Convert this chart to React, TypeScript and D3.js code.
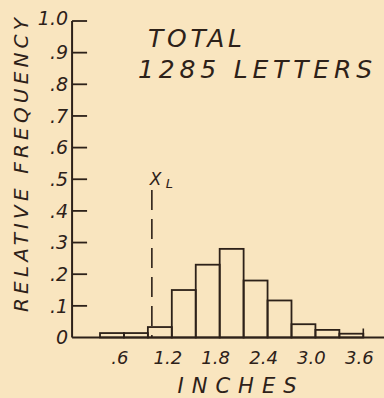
import React from "react";
import * as d3 from "d3";

// chart size
const WIDTH = 384;
const HEIGHT = 398;

// data
const binEdges: number[] = [0.3, 0.6, 0.9, 1.2, 1.5, 1.8, 2.1, 2.4, 2.7, 3.0, 3.3, 3.6];
const frequencies: number[] = [0.014, 0.014, 0.033, 0.15, 0.23, 0.28, 0.18, 0.117, 0.042, 0.024, 0.012];
const yTicks: number[] = [0, 0.1, 0.2, 0.3, 0.4, 0.5, 0.6, 0.7, 0.8, 0.9, 1.0];
const yTickLabels: string[] = ["0", ".1", ".2", ".3", ".4", ".5", ".6", ".7", ".8", ".9", "1.0"];
const xTicks: number[] = [0.6, 1.2, 1.8, 2.4, 3.0, 3.6];
const xTickLabels: string[] = [".6", "1.2", "1.8", "2.4", "3.0", "3.6"];
const xL = 0.95;

const INK = "#2d2119";
const PAPER = "#f9e5bf";
const FONT = "'DejaVu Sans', sans-serif";

const App: React.FC = () => {
  const x = d3.scaleLinear().domain([0.3, 3.6]).range([100, 363.3]);
  const y = d3.scaleLinear().domain([0, 1]).range([337.5, 21]);

  const axisX = x(-0.05);
  const base = y(0);

  const bars = frequencies.map((f, i) => ({ x0: binEdges[i], x1: binEdges[i + 1], f }));

  return (
    <svg
      width={WIDTH}
      height={HEIGHT}
      style={{ position: "absolute", left: 0, top: 0 }}
      fontFamily={FONT}
    >
      <rect width={WIDTH} height={HEIGHT} fill={PAPER} />

      {/* bars */}
      {bars.map((b, i) => (
        <rect
          key={i}
          x={x(b.x0)}
          y={y(b.f)}
          width={x(b.x1) - x(b.x0)}
          height={base - y(b.f)}
          fill="none"
          stroke={INK}
          strokeWidth={1.8}
        />
      ))}

      {/* X_L dashed line */}
      <line
        x1={x(xL)}
        x2={x(xL)}
        y1={190}
        y2={base}
        stroke={INK}
        strokeWidth={1.6}
        strokeDasharray="20 9"
      />
      <text x={x(xL) - 2} y={185} fontSize={17} fill={INK} fontStyle="italic">
        X
      </text>
      <text x={x(xL) + 14} y={188} fontSize={13} fill={INK} fontStyle="italic">
        L
      </text>

      {/* axes */}
      <line x1={axisX} x2={axisX} y1={y(1)} y2={base} stroke={INK} strokeWidth={2} />
      <line x1={axisX} x2={x(3.9)} y1={base} y2={base} stroke={INK} strokeWidth={2} />
      <line x1={x(3.6)} x2={x(3.6)} y1={base} y2={base - 9} stroke={INK} strokeWidth={1.6} />

      {yTicks.map((t, i) => (
        <g key={t}>
          {i > 0 && (
            <line x1={axisX} x2={axisX + 15} y1={y(t)} y2={y(t)} stroke={INK} strokeWidth={1.8} />
          )}
          <text
            x={axisX - 4}
            y={y(t)}
            dy={i === yTicks.length - 1 ? "0.2em" : "0.35em"}
            textAnchor="end"
            fontSize={19}
            fontStyle="italic"
            fill={INK}
          >
            {yTickLabels[i]}
          </text>
        </g>
      ))}

      {xTicks.map((t, i) => (
        <text
          key={t}
          x={x(t) - 4}
          y={364}
          textAnchor="middle"
          fontSize={18}
          fontStyle="italic"
          fill={INK}
        >
          {xTickLabels[i]}
        </text>
      ))}

      {/* axis titles */}
      <text
        x={237}
        y={393}
        textAnchor="middle"
        fontSize={21}
        fontStyle="italic"
        fill={INK}
        textLength={119}
        lengthAdjust="spacing"
      >
        INCHES
      </text>
      <text
        transform={`translate(28,165) rotate(-90)`}
        textAnchor="middle"
        fontSize={20}
        fontStyle="italic"
        fill={INK}
        textLength={294}
        lengthAdjust="spacing"
      >
        RELATIVE FREQUENCY
      </text>

      {/* annotation */}
      <text x={148} y={47} fontSize={25} fontStyle="italic" fill={INK} textLength={94} lengthAdjust="spacing">
        TOTAL
      </text>
      <text x={138} y={78} fontSize={25} fontStyle="italic" fill={INK} textLength={234} lengthAdjust="spacing">
        1285 LETTERS
      </text>
    </svg>
  );
};

export default App;
